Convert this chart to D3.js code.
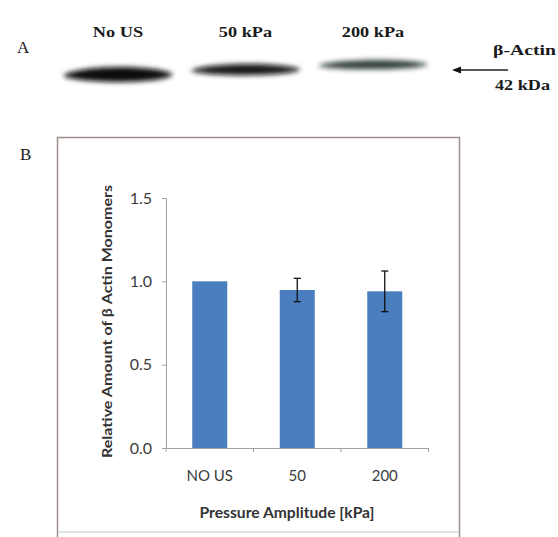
<!DOCTYPE html>
<html>
<head>
<meta charset="utf-8">
<script src="https://cdn.jsdelivr.net/npm/d3@7"></script>
<style>
  html, body { margin: 0; padding: 0; background: #fff; }
  svg { display: block; }
</style>
</head>
<body>
<svg id="chart" width="558" height="537"></svg>
<script>
// ---- Panel A data (western blot lanes) ----
const lanes = ["No US", "50 kPa", "200 kPa"];
const bandIntensity = [1.0, 0.95, 0.85];
const bandThickness = [16, 12, 10];
const bandOffsetY = [0, -5, -10];
const markerLabel = "β-Actin";
const markerWeight = "42 kDa";

// ---- Panel B data (bar chart) ----
const categories = ["NO US", "50", "200"];
const values = [1.0, 0.948, 0.94];
const errors = [0, 0.07, 0.122];
const yTicks = [0.0, 0.5, 1.0, 1.5];
const yTitle = "Relative Amount of β Actin Monomers";
const xTitle = "Pressure Amplitude [kPa]";

const svg = d3.select("#chart");

const defs = svg.append("defs");
defs.append("filter").attr("id", "blur")
  .attr("x", "-20%").attr("y", "-100%").attr("width", "140%").attr("height", "300%")
  .append("feGaussianBlur").attr("stdDeviation", 2.6);

// ---------------- Panel A ----------------
svg.append("text").attr("x", 17).attr("y", 53)
  .attr("font-family", "Liberation Serif").attr("font-size", 17)
  .attr("fill", "#1a1a1a").text("A");

const lane = d3.scalePoint().domain(lanes).range([118, 373]);
const laneW = 110;

svg.append("g").selectAll("text").data(lanes).join("text")
  .attr("x", d => lane(d)).attr("y", 37)
  .attr("text-anchor", "middle")
  .attr("font-family", "Liberation Serif").attr("font-weight", "bold")
  .attr("font-size", 15).attr("fill", "#1a1a1a")
  .attr("transform", d => `translate(${lane(d)},0) scale(1.22,1) translate(${-lane(d)},0)`)
  .text(d => d);

const bandY = 75;
svg.append("g").attr("filter", "url(#blur)").selectAll("path").data(lanes).join("path")
  .attr("d", (d, i) => {
    const cx = lane(d), x0 = cx - laneW / 2, x1 = cx + laneW / 2;
    const cy = bandY + bandOffsetY[i], h = bandThickness[i];
    const p = d3.path();
    p.moveTo(x0, cy + 1);
    p.bezierCurveTo(x0 + 10, cy - h * 0.55, x1 - 25, cy - h * 0.75, x1, cy - 1);
    p.bezierCurveTo(x1 - 5, cy + h * 0.55, x0 + 20, cy + h * 0.6, x0, cy + 1);
    p.closePath();
    return p.toString();
  })
  .attr("fill", (d, i) => i === 2 ? "#101c16" : "#0a0a0a")
  .attr("opacity", (d, i) => bandIntensity[i]);

svg.append("text").attr("x", 493).attr("y", 55)
  .attr("font-family", "Liberation Serif").attr("font-weight", "bold")
  .attr("font-size", 15).attr("fill", "#1a1a1a")
  .attr("textLength", 63).attr("lengthAdjust", "spacingAndGlyphs")
  .text(markerLabel);
svg.append("text").attr("x", 495).attr("y", 90)
  .attr("font-family", "Liberation Serif").attr("font-weight", "bold")
  .attr("font-size", 15).attr("fill", "#1a1a1a")
  .attr("textLength", 55).attr("lengthAdjust", "spacingAndGlyphs")
  .text(markerWeight);
// arrow
svg.append("line").attr("x1", 508).attr("y1", 70).attr("x2", 458).attr("y2", 70)
  .attr("stroke", "#222").attr("stroke-width", 1.3);
svg.append("path").attr("d", "M452,70 L461,66.5 L461,73.5 Z").attr("fill", "#111");

// ---------------- Panel B ----------------
// outer frame
svg.append("path")
  .attr("d", "M57.5,540 L57.5,137.5 L459.5,137.5 L459.5,540")
  .attr("fill", "none").attr("stroke", "#9b918c").attr("stroke-width", 1.5);
svg.append("line").attr("x1", 58).attr("x2", 459).attr("y1", 532).attr("y2", 532)
  .attr("stroke", "#e2e2e2").attr("stroke-width", 2);

svg.append("text").attr("x", 20).attr("y", 160)
  .attr("font-family", "Liberation Serif").attr("font-size", 17)
  .attr("fill", "#1a1a1a").text("B");

const x = d3.scaleBand().domain(categories).range([166, 428.5]).paddingInner(0.6).paddingOuter(0.3);
const y = d3.scaleLinear().domain([0, 1.5]).range([448, 198]);
const axisColor = "#a8a09a";

// bars
svg.append("g").selectAll("rect").data(categories).join("rect")
  .attr("x", d => x(d)).attr("width", x.bandwidth())
  .attr("y", (d, i) => y(values[i]))
  .attr("height", (d, i) => y(0) - y(values[i]))
  .attr("fill", "#4a7ebf");

// y axis
const yAxis = svg.append("g").attr("transform", "translate(166,0)")
  .call(d3.axisLeft(y).tickValues(yTicks).tickFormat(d3.format(".1f")).tickSize(4).tickPadding(10));
yAxis.select(".domain").attr("stroke", axisColor);
yAxis.selectAll(".tick line").attr("stroke", axisColor);
yAxis.selectAll(".tick text").attr("font-family", "Lato").attr("font-size", 16).attr("fill", "#3c3c3c");

// x axis
const xAxis = svg.append("g").attr("transform", "translate(0,448)")
  .call(d3.axisBottom(x).tickSize(0).tickPadding(22));
xAxis.select(".domain").attr("stroke", axisColor);
xAxis.selectAll(".tick text").attr("font-family", "Lato").attr("font-size", 15).attr("fill", "#3c3c3c");
// category boundary ticks
const boundaries = d3.range(categories.length + 1).map(i => 166 + i * (428.5 - 166) / categories.length);
xAxis.append("g").selectAll("line").data(boundaries).join("line")
  .attr("x1", d => d).attr("x2", d => d).attr("y1", 0).attr("y2", 4)
  .attr("stroke", axisColor);

// error bars
const eb = svg.append("g").attr("stroke", "#111").attr("stroke-width", 1.3);
categories.forEach((c, i) => {
  if (!errors[i]) return;
  const cx = x(c) + x.bandwidth() / 2;
  const y1 = y(values[i] + errors[i]), y2 = y(values[i] - errors[i]);
  eb.append("line").attr("x1", cx).attr("x2", cx).attr("y1", y1).attr("y2", y2);
  eb.append("line").attr("x1", cx - 3.5).attr("x2", cx + 3.5).attr("y1", y1).attr("y2", y1);
  eb.append("line").attr("x1", cx - 3.5).attr("x2", cx + 3.5).attr("y1", y2).attr("y2", y2);
});

// axis titles
svg.append("text")
  .attr("transform", "translate(112,321.5) rotate(-90)")
  .attr("text-anchor", "middle")
  .attr("font-family", "Lato").attr("font-weight", "bold").attr("font-size", 14)
  .attr("fill", "#333").attr("textLength", 273).attr("lengthAdjust", "spacingAndGlyphs")
  .text(yTitle);
svg.append("text")
  .attr("x", 287).attr("y", 518)
  .attr("text-anchor", "middle")
  .attr("font-family", "Lato").attr("font-weight", "bold").attr("font-size", 15)
  .attr("fill", "#333").attr("textLength", 175).attr("lengthAdjust", "spacingAndGlyphs")
  .text(xTitle);
</script>
</body>
</html>
